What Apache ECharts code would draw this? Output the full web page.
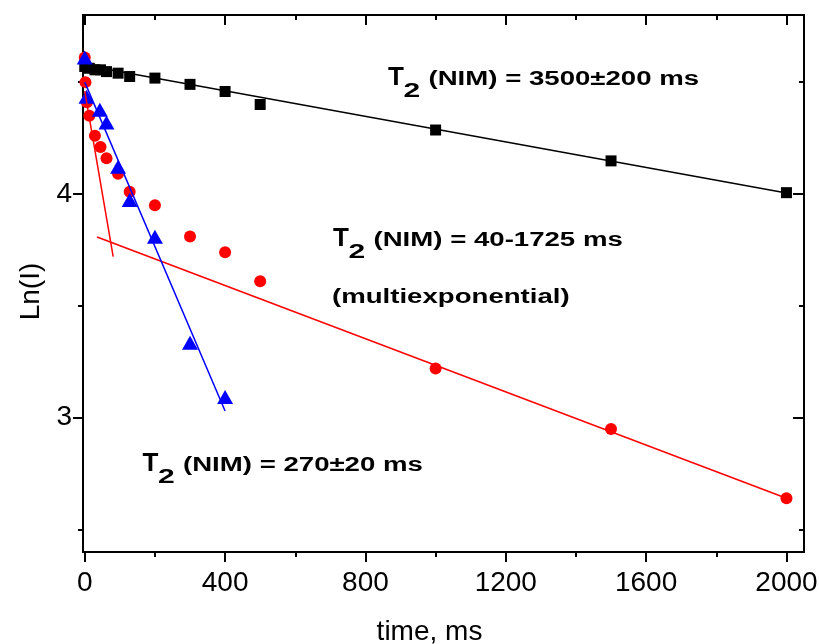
<!DOCTYPE html>
<html>
<head>
<meta charset="utf-8">
<title>T2 decay</title>
<script src="https://cdn.jsdelivr.net/npm/echarts@6/dist/echarts.min.js"></script>
<style>
  html, body { margin: 0; padding: 0; background: #fff; }
  #chart { width: 819px; height: 644px; }
</style>
</head>
<body>
<div id="chart"></div>
<script>
// echo time (ms) and ln(I)
const timesBlack = [0, 13, 29, 45, 62, 95, 128, 200, 300, 400, 500, 1000, 1500, 2000]
const lnBlack = [4.57, 4.562, 4.555, 4.555, 4.547, 4.54, 4.525, 4.518, 4.49, 4.458, 4.40, 4.286, 4.148, 4.006]

const timesRed = [0, 2, 6, 13, 29, 45, 62, 95, 128, 200, 300, 400, 500, 1000, 1500, 2000]
const lnRed = [4.61, 4.50, 4.41, 4.35, 4.26, 4.21, 4.16, 4.09, 4.01, 3.95, 3.81, 3.74, 3.61, 3.22, 2.95, 2.64]

const timesBlue = [0, 5, 43, 62, 95, 128, 200, 300, 400]
const lnBlue = [4.61, 4.435, 4.376, 4.32, 4.122, 3.973, 3.809, 3.335, 3.093]

// straight-line fits, [time, ln] at each end
const fitBlack = [[0, 4.575], [2000, 4.004]]
const fitRedFast = [[0, 4.46], [81, 3.72]]
const fitRedSlow = [[35, 3.808], [2000, 2.64]]
const fitBlue = [[0, 4.50], [400, 3.03]]

// axes
const xRange = [-5, 2050]
const yRange = [2.4, 4.8]
const xMajor = [0, 400, 800, 1200, 1600, 2000]
const xMinor = [200, 600, 1000, 1400, 1800]
const yMajor = [3, 4]
const yMinor = [2.5, 3.5, 4.5]

const textBlack = '(NIM) = 3500±200 ms'
const textRed = '(NIM) = 40-1725 ms'
const textRedNote = '(multiexponential)'
const textBlue = '(NIM) = 270±20 ms'

const FONT = '"Liberation Sans", Arial, sans-serif'

function pairs(xs, ys) {
  return xs.map((x, i) => [x, ys[i]])
}

// one side of the frame: line + ticks (+ labels on bottom/left)
function frameAxis(range, position, ticks, len, inside, labels) {
  return {
    type: 'value',
    position: position,
    min: range[0],
    max: range[1],
    axisLine: { show: true, onZero: false, lineStyle: { color: '#000', width: 2 } },
    axisTick: {
      show: true,
      inside: inside,
      length: len,
      customValues: ticks,
      lineStyle: { color: '#000', width: 2 },
    },
    axisLabel: labels
      ? {
          show: true,
          customValues: ticks,
          color: '#000',
          fontSize: 28,
          fontFamily: FONT,
          formatter: (v) => String(v),
        }
      : { show: false },
    splitLine: { show: false },
  }
}

// T2 label: big T, stretched subscript 2 and stretched rest
function t2Label(x, y, rest) {
  return [
    {
      type: 'text', x: x, y: y,
      style: { text: 'T', font: 'bold 26px ' + FONT, fill: '#000', align: 'left', verticalAlign: 'middle' },
    },
    {
      type: 'text', x: x + 15.5, y: y + 13, scaleX: 1.43,
      style: { text: '2', font: 'bold 21px ' + FONT, fill: '#000', align: 'left', verticalAlign: 'middle' },
    },
    {
      type: 'text', x: x + 40.5, y: y + 1.5, scaleX: 1.38,
      style: { text: rest, font: 'bold 20px ' + FONT, fill: '#000', align: 'left', verticalAlign: 'middle' },
    },
  ]
}

const chart = echarts.init(document.getElementById('chart'))

const xBottom = frameAxis(xRange, 'bottom', xMajor, 10, false, true)
xBottom.name = 'time, ms'
xBottom.nameLocation = 'middle'
xBottom.nameGap = 66
xBottom.nameTextStyle = { color: '#000', fontSize: 28, fontFamily: FONT, padding: [0, 28, 0, 0] }
xBottom.axisLabel.margin = 17

const yLeft = frameAxis(yRange, 'left', yMajor, 10, false, true)
yLeft.name = 'Ln(I)'
yLeft.nameLocation = 'middle'
yLeft.nameGap = 38
yLeft.nameTextStyle = { color: '#000', fontSize: 28, fontFamily: FONT, padding: [0, 16, 0, 0] }
yLeft.axisLabel.margin = 11

const option = {
  animation: false,
  backgroundColor: '#fff',
  grid: { left: 83, right: 15, top: 15, bottom: 92, containLabel: false, outerBoundsMode: 'none' },
  xAxis: [
    xBottom,
    frameAxis(xRange, 'bottom', xMinor, 5, false, false),
    frameAxis(xRange, 'top', xMajor, 10, true, false),
    frameAxis(xRange, 'top', xMinor, 5, true, false),
  ],
  yAxis: [
    yLeft,
    frameAxis(yRange, 'left', yMinor, 5, false, false),
    frameAxis(yRange, 'right', yMajor, 11, true, false),
    frameAxis(yRange, 'right', yMinor, 5, true, false),
  ],
  series: [
    { type: 'line', data: fitBlack, showSymbol: false, lineStyle: { color: '#000', width: 1.5 } },
    { type: 'line', data: fitRedFast, showSymbol: false, lineStyle: { color: '#ff0000', width: 1.5 } },
    { type: 'line', data: fitRedSlow, showSymbol: false, lineStyle: { color: '#ff0000', width: 1.5 } },
    { type: 'line', data: fitBlue, showSymbol: false, lineStyle: { color: '#0000ff', width: 1.5 } },
    {
      type: 'scatter', data: pairs(timesBlack, lnBlack),
      symbol: 'rect', symbolSize: 11, itemStyle: { color: '#000', opacity: 1 },
    },
    {
      type: 'scatter', data: pairs(timesRed, lnRed),
      symbol: 'circle', symbolSize: 12, itemStyle: { color: '#ff0000', opacity: 1 },
    },
    {
      type: 'scatter', data: pairs(timesBlue, lnBlue),
      symbol: 'triangle', symbolSize: [16, 14], itemStyle: { color: '#0000ff', opacity: 1 },
    },
  ],
  graphic: [
    ...t2Label(388, 78, textBlack),
    ...t2Label(333, 239, textRed),
    {
      type: 'text', x: 332, y: 297, scaleX: 1.38,
      style: { text: textRedNote, font: 'bold 20px ' + FONT, fill: '#000', align: 'left', verticalAlign: 'middle' },
    },
    ...t2Label(142.5, 464, textBlue),
  ],
}

chart.setOption(option)
</script>
</body>
</html>
